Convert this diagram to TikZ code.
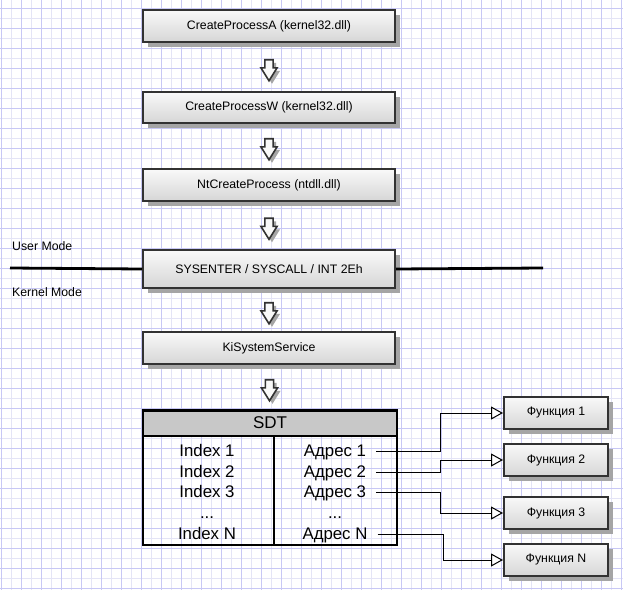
\documentclass[tikz,border=0pt]{standalone}
\usepackage{fontspec}
\setmainfont{Liberation Sans}
\usetikzlibrary{arrows.meta,shapes.arrows,shadows,calc}
\definecolor{gridmajor}{RGB}{200,200,245}
\definecolor{gridminor}{RGB}{228,228,246}
\definecolor{boxline}{RGB}{50,50,50}
\definecolor{boxshadow}{RGB}{165,165,165}
\definecolor{headfill}{RGB}{200,200,200}
\tikzset{
  procbox/.style={draw=boxline, line width=2.4pt, top color=gray!5, bottom color=gray!32, inner sep=0pt,
    minimum width=251.6pt, minimum height=31.6pt, font=\fontsize{12.3}{14}\selectfont,
    drop shadow={shadow xshift=5pt, shadow yshift=-5pt, fill=boxshadow, opacity=1}},
  funcbox/.style={procbox, minimum width=103.6pt, minimum height=31.6pt},
  downarrow/.style={single arrow, shape border rotate=270, draw=boxline, fill=gray!5, line width=1.6pt,
    inner sep=3.3pt, minimum height=21pt, single arrow head extend=4pt, single arrow tip angle=64,
    drop shadow={shadow xshift=3pt, shadow yshift=-3pt, fill=boxshadow, opacity=1}},
  sdtframe/.style={draw=black, line width=2pt, minimum width=254pt, minimum height=134pt, inner sep=0pt},
  sdthead/.style={draw=black, line width=2pt, fill=headfill, minimum width=254pt, minimum height=26pt,
    inner sep=0pt, font=\fontsize{17}{19}\selectfont},
  cell/.style={inner sep=0pt, anchor=base, font=\fontsize{16.8}{18}\selectfont},
  modeline/.style={line width=2.8pt, black},
  modelabel/.style={anchor=west, inner sep=0pt, font=\fontsize{12.3}{14}\selectfont},
  link/.style={line width=1pt, black, shorten <=10pt, -{Triangle[length=12pt, width=13pt, fill=white]}}
}

\begin{document}
\begin{tikzpicture}[x=1pt,y=-1pt]
\useasboundingbox (0,0) rectangle (623,589);
\fill[white] (0,0) rectangle (623,589);
\begin{scope}
\clip (0,0) rectangle (623,589);
\draw[gridminor, line width=0.8pt, step=10pt, shift={(1.7,8.3)}] (-20,600) grid (640,-20);
\draw[gridmajor, line width=0.8pt, step=20pt, shift={(1.7,8.3)}] (-20,600) grid (640,-20);
\end{scope}

\node[procbox] (cpa) at (269,26) {CreateProcessA (kernel32.dll)};
\node[procbox, minimum height=30.6pt] (cpw) at (269,107.5) {CreateProcessW (kernel32.dll)};
\node[procbox] (ntcp) at (269,185) {NtCreateProcess (ntdll.dll)};
\node[procbox, minimum height=37.6pt] (sys) at (269,269) {SYSENTER / SYSCALL / INT 2Eh};
\node[procbox] (kiss) at (269,348) {KiSystemService};

\node[sdthead] (sdthead) at (270,423) {SDT};
\node[sdtframe] (sdt) at (270,478) {};
\coordinate (colsplit) at (274,0);
\draw[line width=2pt] (sdthead.south -| colsplit) -- (sdt.south -| colsplit);

\node[downarrow] (a1) at ($(cpa.south)!0.5!(cpw.north)$) {};
\node[downarrow] (a2) at ($(cpw.south)!0.5!(ntcp.north)$) {};
\node[downarrow] (a3) at ($(ntcp.south)!0.5!(sys.north)$) {};
\node[downarrow] (a4) at ($(sys.south)!0.5!(kiss.north)$) {};
\node[downarrow] (a5) at ($(kiss.south)!0.5!(sdthead.north)$) {};

\coordinate (modeL) at (10,268);
\coordinate (modeR) at (543,268);
\draw[modeline] (modeL) -- (sys.west);
\draw[modeline] (sys.east) -- (modeR);
\node[modelabel] (um) at (12,246) {User Mode};
\node[modelabel] (km) at (12,292) {Kernel Mode};

\node[cell] (idx1) at (207,456) {Index 1};
\node[cell] (idx2) at (207,477) {Index 2};
\node[cell] (idx3) at (207,497) {Index 3};
\node[cell] (idxd) at (207,518) {...};
\node[cell] (idxn) at (207,539) {Index N};
\node[cell] (adr1) at (335,456) {Адрес 1};
\node[cell] (adr2) at (335,477) {Адрес 2};
\node[cell] (adr3) at (335,497) {Адрес 3};
\node[cell] (adrd) at (335,518) {...};
\node[cell] (adrn) at (335,539) {Адрес N};

\node[funcbox] (f1) at (556,413) {Функция 1};
\node[funcbox] (f2) at (556,460) {Функция 2};
\node[funcbox] (f3) at (556,513) {Функция 3};
\node[funcbox] (fn) at (556,560) {Функция N};

\coordinate (jog) at (440,0);
\draw[link] (adr1.east) -- (adr1.east -| jog) |- (f1.west);
\draw[link] (adr2.east) -- (adr2.east -| jog) |- (f2.west);
\draw[link] (adr3.east) -- (adr3.east -| jog) |- (f3.west);
\draw[link] (adrn.east) -- ([xshift=3pt]adrn.east -| jog) |- (fn.west);
\end{tikzpicture}
\end{document}
